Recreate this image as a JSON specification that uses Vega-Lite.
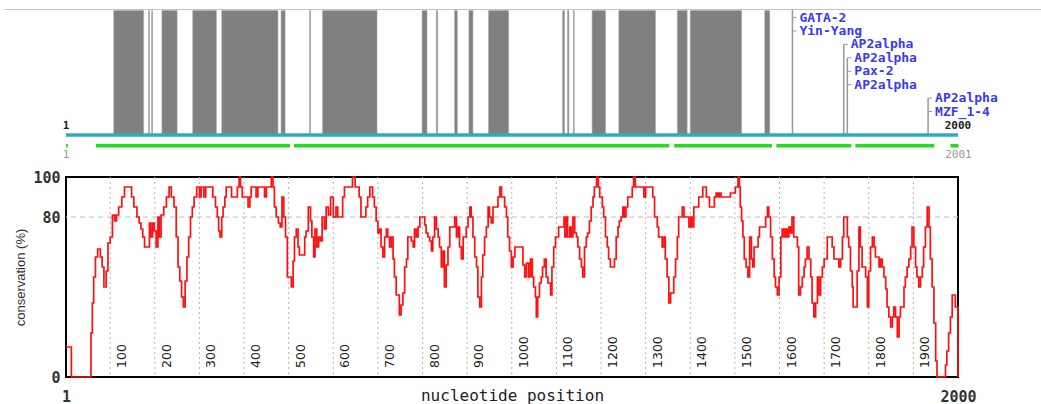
{
  "$schema": "https://vega.github.io/schema/vega-lite/v6.json",
  "autosize": {"type": "pad"},
  "padding": {"left": 3, "top": 8.5, "right": 0, "bottom": 0},
  "background": "white",
  "bounds": "flush",
  "spacing": 41.5,
  "config": {"font": "DejaVu Sans Mono"},
  "datasets": {
    "regions": [
      {"start": 108, "end": 175}, {"start": 186, "end": 188}, {"start": 193, "end": 195},
      {"start": 216, "end": 250}, {"start": 285, "end": 338}, {"start": 350, "end": 476},
      {"start": 483, "end": 492}, {"start": 547, "end": 549}, {"start": 576, "end": 698},
      {"start": 799, "end": 810}, {"start": 831, "end": 834}, {"start": 872, "end": 878},
      {"start": 904, "end": 913}, {"start": 948, "end": 993}, {"start": 1114, "end": 1118},
      {"start": 1125, "end": 1128}, {"start": 1138, "end": 1140}, {"start": 1180, "end": 1210},
      {"start": 1240, "end": 1322}, {"start": 1371, "end": 1393}, {"start": 1400, "end": 1515},
      {"start": 1567, "end": 1578}
    ],
    "alignments": [
      {"start": 1, "end": 5}, {"start": 68, "end": 503}, {"start": 512, "end": 1353},
      {"start": 1364, "end": 1583}, {"start": 1593, "end": 1761}, {"start": 1770, "end": 1947},
      {"start": 1983, "end": 2001}
    ],
    "sites": [
      {"pos": 1629, "top": -0.6}, {"pos": 1744, "top": 2}, {"pos": 1752, "top": 3}, {"pos": 1933, "top": 6}
    ],
    "factors": [
      {"pos": 1629, "row": 0, "name": "GATA-2"},
      {"pos": 1629, "row": 1, "name": "Yin-Yang"},
      {"pos": 1744, "row": 2, "name": "AP2alpha"},
      {"pos": 1752, "row": 3, "name": "AP2alpha"},
      {"pos": 1752, "row": 4, "name": "Pax-2"},
      {"pos": 1752, "row": 5, "name": "AP2alpha"},
      {"pos": 1933, "row": 6, "name": "AP2alpha"},
      {"pos": 1933, "row": 7, "name": "MZF_1-4"}
    ],
    "seqEnds": [{"pos": 1, "label": "1"}, {"pos": 2000, "label": "2000"}],
    "alnEnds": [{"pos": 1, "label": "1"}, {"pos": 2001, "label": "2001"}],
    "grid": [
      {"pos": 100}, {"pos": 200}, {"pos": 300}, {"pos": 400}, {"pos": 500}, {"pos": 600},
      {"pos": 700}, {"pos": 800}, {"pos": 900}, {"pos": 1000}, {"pos": 1100}, {"pos": 1200},
      {"pos": 1300}, {"pos": 1400}, {"pos": 1500}, {"pos": 1600}, {"pos": 1700}, {"pos": 1800},
      {"pos": 1900}
    ],
    "conservation": [
      {"pos": 1, "pct": 15}, {"pos": 13, "pct": 0}, {"pos": 57, "pct": 22}, {"pos": 60, "pct": 37},
      {"pos": 63, "pct": 50}, {"pos": 67, "pct": 60}, {"pos": 72, "pct": 64}, {"pos": 78, "pct": 60},
      {"pos": 82, "pct": 55}, {"pos": 86, "pct": 45}, {"pos": 91, "pct": 53}, {"pos": 95, "pct": 67},
      {"pos": 100, "pct": 70}, {"pos": 105, "pct": 81}, {"pos": 110, "pct": 78}, {"pos": 114, "pct": 81},
      {"pos": 119, "pct": 85}, {"pos": 126, "pct": 90}, {"pos": 132, "pct": 95}, {"pos": 148, "pct": 90},
      {"pos": 153, "pct": 85}, {"pos": 160, "pct": 80}, {"pos": 165, "pct": 77}, {"pos": 169, "pct": 74},
      {"pos": 173, "pct": 70}, {"pos": 177, "pct": 65}, {"pos": 188, "pct": 77}, {"pos": 191, "pct": 70},
      {"pos": 195, "pct": 77}, {"pos": 199, "pct": 73}, {"pos": 203, "pct": 65}, {"pos": 207, "pct": 80},
      {"pos": 210, "pct": 70}, {"pos": 214, "pct": 81}, {"pos": 220, "pct": 85}, {"pos": 226, "pct": 90},
      {"pos": 232, "pct": 95}, {"pos": 237, "pct": 90}, {"pos": 243, "pct": 85}, {"pos": 248, "pct": 70},
      {"pos": 252, "pct": 55}, {"pos": 256, "pct": 48}, {"pos": 260, "pct": 40}, {"pos": 264, "pct": 35},
      {"pos": 268, "pct": 48}, {"pos": 272, "pct": 60}, {"pos": 276, "pct": 70}, {"pos": 280, "pct": 80},
      {"pos": 284, "pct": 85}, {"pos": 288, "pct": 90}, {"pos": 294, "pct": 95}, {"pos": 300, "pct": 90},
      {"pos": 304, "pct": 95}, {"pos": 310, "pct": 90}, {"pos": 314, "pct": 95}, {"pos": 330, "pct": 90},
      {"pos": 336, "pct": 85}, {"pos": 340, "pct": 80}, {"pos": 343, "pct": 73}, {"pos": 346, "pct": 70},
      {"pos": 350, "pct": 80}, {"pos": 353, "pct": 85}, {"pos": 357, "pct": 90}, {"pos": 360, "pct": 95},
      {"pos": 372, "pct": 90}, {"pos": 385, "pct": 95}, {"pos": 389, "pct": 100}, {"pos": 392, "pct": 95},
      {"pos": 396, "pct": 90}, {"pos": 409, "pct": 85}, {"pos": 413, "pct": 90}, {"pos": 416, "pct": 95},
      {"pos": 427, "pct": 90}, {"pos": 431, "pct": 95}, {"pos": 446, "pct": 90}, {"pos": 450, "pct": 95},
      {"pos": 461, "pct": 100}, {"pos": 465, "pct": 95}, {"pos": 468, "pct": 85}, {"pos": 472, "pct": 80},
      {"pos": 477, "pct": 77}, {"pos": 481, "pct": 75}, {"pos": 485, "pct": 90}, {"pos": 489, "pct": 80},
      {"pos": 493, "pct": 70}, {"pos": 497, "pct": 50}, {"pos": 506, "pct": 45}, {"pos": 510, "pct": 58},
      {"pos": 513, "pct": 70}, {"pos": 517, "pct": 74}, {"pos": 521, "pct": 65}, {"pos": 524, "pct": 61},
      {"pos": 536, "pct": 70}, {"pos": 539, "pct": 73}, {"pos": 544, "pct": 85}, {"pos": 549, "pct": 78},
      {"pos": 552, "pct": 70}, {"pos": 556, "pct": 60}, {"pos": 559, "pct": 74}, {"pos": 563, "pct": 65},
      {"pos": 567, "pct": 70}, {"pos": 571, "pct": 68}, {"pos": 575, "pct": 80}, {"pos": 580, "pct": 74},
      {"pos": 584, "pct": 85}, {"pos": 589, "pct": 81}, {"pos": 594, "pct": 90}, {"pos": 600, "pct": 80},
      {"pos": 606, "pct": 85}, {"pos": 610, "pct": 80}, {"pos": 621, "pct": 90}, {"pos": 625, "pct": 95},
      {"pos": 643, "pct": 100}, {"pos": 649, "pct": 95}, {"pos": 658, "pct": 90}, {"pos": 662, "pct": 80},
      {"pos": 673, "pct": 85}, {"pos": 677, "pct": 90}, {"pos": 682, "pct": 95}, {"pos": 688, "pct": 90},
      {"pos": 692, "pct": 85}, {"pos": 696, "pct": 78}, {"pos": 700, "pct": 72}, {"pos": 704, "pct": 74},
      {"pos": 707, "pct": 65}, {"pos": 711, "pct": 60}, {"pos": 715, "pct": 70}, {"pos": 719, "pct": 74},
      {"pos": 722, "pct": 70}, {"pos": 726, "pct": 65}, {"pos": 730, "pct": 70}, {"pos": 734, "pct": 59},
      {"pos": 737, "pct": 50}, {"pos": 741, "pct": 41}, {"pos": 748, "pct": 31}, {"pos": 752, "pct": 36},
      {"pos": 756, "pct": 42}, {"pos": 760, "pct": 55}, {"pos": 764, "pct": 59}, {"pos": 767, "pct": 70},
      {"pos": 775, "pct": 68}, {"pos": 779, "pct": 65}, {"pos": 782, "pct": 74}, {"pos": 786, "pct": 70},
      {"pos": 790, "pct": 75}, {"pos": 794, "pct": 80}, {"pos": 805, "pct": 76}, {"pos": 808, "pct": 72},
      {"pos": 812, "pct": 70}, {"pos": 816, "pct": 68}, {"pos": 820, "pct": 63}, {"pos": 823, "pct": 70},
      {"pos": 827, "pct": 80}, {"pos": 831, "pct": 74}, {"pos": 835, "pct": 70}, {"pos": 838, "pct": 65},
      {"pos": 842, "pct": 55}, {"pos": 846, "pct": 63}, {"pos": 849, "pct": 45}, {"pos": 853, "pct": 56},
      {"pos": 857, "pct": 65}, {"pos": 861, "pct": 75}, {"pos": 872, "pct": 80}, {"pos": 876, "pct": 70},
      {"pos": 880, "pct": 75}, {"pos": 883, "pct": 65}, {"pos": 887, "pct": 59}, {"pos": 891, "pct": 70},
      {"pos": 898, "pct": 75}, {"pos": 902, "pct": 80}, {"pos": 906, "pct": 85}, {"pos": 909, "pct": 80},
      {"pos": 913, "pct": 70}, {"pos": 917, "pct": 60}, {"pos": 921, "pct": 55}, {"pos": 924, "pct": 40},
      {"pos": 928, "pct": 35}, {"pos": 932, "pct": 50}, {"pos": 935, "pct": 61}, {"pos": 939, "pct": 70},
      {"pos": 943, "pct": 75}, {"pos": 947, "pct": 85}, {"pos": 950, "pct": 80}, {"pos": 954, "pct": 77},
      {"pos": 958, "pct": 85}, {"pos": 969, "pct": 90}, {"pos": 973, "pct": 95}, {"pos": 977, "pct": 90},
      {"pos": 984, "pct": 85}, {"pos": 988, "pct": 80}, {"pos": 991, "pct": 70}, {"pos": 995, "pct": 63},
      {"pos": 999, "pct": 55}, {"pos": 1003, "pct": 60}, {"pos": 1007, "pct": 65}, {"pos": 1025, "pct": 56},
      {"pos": 1029, "pct": 50}, {"pos": 1033, "pct": 57}, {"pos": 1038, "pct": 50}, {"pos": 1042, "pct": 59},
      {"pos": 1046, "pct": 50}, {"pos": 1049, "pct": 45}, {"pos": 1053, "pct": 40}, {"pos": 1055, "pct": 30},
      {"pos": 1058, "pct": 40}, {"pos": 1062, "pct": 47}, {"pos": 1066, "pct": 50}, {"pos": 1069, "pct": 55},
      {"pos": 1073, "pct": 59}, {"pos": 1077, "pct": 50}, {"pos": 1081, "pct": 47}, {"pos": 1087, "pct": 41},
      {"pos": 1090, "pct": 55}, {"pos": 1094, "pct": 65}, {"pos": 1098, "pct": 70}, {"pos": 1105, "pct": 75},
      {"pos": 1117, "pct": 80}, {"pos": 1119, "pct": 70}, {"pos": 1123, "pct": 80}, {"pos": 1125, "pct": 70},
      {"pos": 1130, "pct": 75}, {"pos": 1133, "pct": 70}, {"pos": 1137, "pct": 80}, {"pos": 1141, "pct": 72},
      {"pos": 1145, "pct": 70}, {"pos": 1148, "pct": 65}, {"pos": 1152, "pct": 59}, {"pos": 1156, "pct": 55},
      {"pos": 1159, "pct": 50}, {"pos": 1163, "pct": 65}, {"pos": 1167, "pct": 70}, {"pos": 1170, "pct": 72},
      {"pos": 1174, "pct": 78}, {"pos": 1178, "pct": 85}, {"pos": 1182, "pct": 90}, {"pos": 1185, "pct": 95},
      {"pos": 1190, "pct": 100}, {"pos": 1194, "pct": 95}, {"pos": 1197, "pct": 90}, {"pos": 1203, "pct": 85},
      {"pos": 1206, "pct": 80}, {"pos": 1210, "pct": 70}, {"pos": 1214, "pct": 65}, {"pos": 1217, "pct": 59},
      {"pos": 1221, "pct": 55}, {"pos": 1230, "pct": 59}, {"pos": 1234, "pct": 70}, {"pos": 1238, "pct": 75},
      {"pos": 1241, "pct": 78}, {"pos": 1245, "pct": 80}, {"pos": 1249, "pct": 85}, {"pos": 1252, "pct": 80},
      {"pos": 1256, "pct": 85}, {"pos": 1260, "pct": 90}, {"pos": 1270, "pct": 95}, {"pos": 1273, "pct": 100},
      {"pos": 1277, "pct": 95}, {"pos": 1296, "pct": 90}, {"pos": 1300, "pct": 95}, {"pos": 1316, "pct": 90},
      {"pos": 1320, "pct": 80}, {"pos": 1326, "pct": 75}, {"pos": 1329, "pct": 70}, {"pos": 1337, "pct": 65},
      {"pos": 1341, "pct": 70}, {"pos": 1344, "pct": 59}, {"pos": 1348, "pct": 50}, {"pos": 1352, "pct": 37},
      {"pos": 1356, "pct": 42}, {"pos": 1363, "pct": 50}, {"pos": 1367, "pct": 59}, {"pos": 1371, "pct": 70},
      {"pos": 1374, "pct": 80}, {"pos": 1382, "pct": 85}, {"pos": 1386, "pct": 80}, {"pos": 1397, "pct": 75},
      {"pos": 1401, "pct": 80}, {"pos": 1404, "pct": 75}, {"pos": 1408, "pct": 85}, {"pos": 1419, "pct": 90},
      {"pos": 1428, "pct": 95}, {"pos": 1436, "pct": 90}, {"pos": 1443, "pct": 85}, {"pos": 1454, "pct": 90},
      {"pos": 1458, "pct": 92}, {"pos": 1462, "pct": 90}, {"pos": 1465, "pct": 92}, {"pos": 1469, "pct": 90},
      {"pos": 1490, "pct": 92}, {"pos": 1501, "pct": 95}, {"pos": 1507, "pct": 100}, {"pos": 1510, "pct": 95},
      {"pos": 1512, "pct": 85}, {"pos": 1515, "pct": 78}, {"pos": 1518, "pct": 70}, {"pos": 1521, "pct": 59},
      {"pos": 1525, "pct": 55}, {"pos": 1529, "pct": 50}, {"pos": 1533, "pct": 70}, {"pos": 1537, "pct": 59},
      {"pos": 1540, "pct": 55}, {"pos": 1543, "pct": 65}, {"pos": 1552, "pct": 70}, {"pos": 1555, "pct": 75},
      {"pos": 1569, "pct": 80}, {"pos": 1573, "pct": 85}, {"pos": 1576, "pct": 80}, {"pos": 1580, "pct": 70},
      {"pos": 1584, "pct": 59}, {"pos": 1588, "pct": 50}, {"pos": 1591, "pct": 45}, {"pos": 1595, "pct": 41},
      {"pos": 1599, "pct": 50}, {"pos": 1603, "pct": 70}, {"pos": 1606, "pct": 74}, {"pos": 1610, "pct": 70},
      {"pos": 1614, "pct": 74}, {"pos": 1617, "pct": 70}, {"pos": 1621, "pct": 75}, {"pos": 1625, "pct": 72},
      {"pos": 1628, "pct": 80}, {"pos": 1632, "pct": 70}, {"pos": 1640, "pct": 65}, {"pos": 1643, "pct": 41},
      {"pos": 1647, "pct": 45}, {"pos": 1651, "pct": 50}, {"pos": 1655, "pct": 55}, {"pos": 1658, "pct": 59},
      {"pos": 1662, "pct": 65}, {"pos": 1666, "pct": 59}, {"pos": 1670, "pct": 50}, {"pos": 1673, "pct": 37},
      {"pos": 1677, "pct": 30}, {"pos": 1681, "pct": 37}, {"pos": 1685, "pct": 50}, {"pos": 1688, "pct": 41},
      {"pos": 1692, "pct": 50}, {"pos": 1696, "pct": 55}, {"pos": 1700, "pct": 59}, {"pos": 1707, "pct": 70},
      {"pos": 1718, "pct": 65}, {"pos": 1722, "pct": 59}, {"pos": 1733, "pct": 55}, {"pos": 1737, "pct": 59},
      {"pos": 1741, "pct": 70}, {"pos": 1744, "pct": 80}, {"pos": 1752, "pct": 70}, {"pos": 1755, "pct": 65},
      {"pos": 1759, "pct": 53}, {"pos": 1763, "pct": 45}, {"pos": 1765, "pct": 35}, {"pos": 1774, "pct": 53},
      {"pos": 1778, "pct": 75}, {"pos": 1781, "pct": 65}, {"pos": 1785, "pct": 55}, {"pos": 1793, "pct": 50},
      {"pos": 1797, "pct": 35}, {"pos": 1800, "pct": 53}, {"pos": 1804, "pct": 65}, {"pos": 1808, "pct": 70},
      {"pos": 1812, "pct": 65}, {"pos": 1815, "pct": 60}, {"pos": 1823, "pct": 55}, {"pos": 1826, "pct": 59},
      {"pos": 1830, "pct": 55}, {"pos": 1834, "pct": 50}, {"pos": 1838, "pct": 44}, {"pos": 1841, "pct": 35},
      {"pos": 1845, "pct": 30}, {"pos": 1849, "pct": 25}, {"pos": 1853, "pct": 30}, {"pos": 1856, "pct": 35},
      {"pos": 1860, "pct": 30}, {"pos": 1864, "pct": 20}, {"pos": 1868, "pct": 30}, {"pos": 1871, "pct": 35},
      {"pos": 1879, "pct": 45}, {"pos": 1882, "pct": 50}, {"pos": 1886, "pct": 55}, {"pos": 1890, "pct": 59},
      {"pos": 1894, "pct": 65}, {"pos": 1897, "pct": 75}, {"pos": 1901, "pct": 65}, {"pos": 1905, "pct": 55},
      {"pos": 1908, "pct": 50}, {"pos": 1912, "pct": 45}, {"pos": 1916, "pct": 50}, {"pos": 1920, "pct": 55},
      {"pos": 1923, "pct": 65}, {"pos": 1927, "pct": 75}, {"pos": 1931, "pct": 85}, {"pos": 1935, "pct": 75},
      {"pos": 1938, "pct": 59}, {"pos": 1942, "pct": 45}, {"pos": 1946, "pct": 27}, {"pos": 1950, "pct": 8},
      {"pos": 1953, "pct": 0}, {"pos": 1972, "pct": 6}, {"pos": 1975, "pct": 13}, {"pos": 1979, "pct": 22},
      {"pos": 1983, "pct": 30}, {"pos": 1987, "pct": 41}, {"pos": 1994, "pct": 35}, {"pos": 2000, "pct": 0}
    ]
  },
  "vconcat": [
    {
      "width": 892,
      "height": 125.5,
      "view": {"stroke": null},
      "layer": [
        {
          "data": {"values": [{}]},
          "mark": {"type": "rule", "color": "#c4c4c4", "strokeWidth": 1},
          "encoding": {
            "x": {"datum": -137, "type": "quantitative", "scale": {"domain": [1, 2000], "nice": false, "zero": false}, "axis": null},
            "x2": {"datum": 2190},
            "y": {"datum": -0.6, "type": "quantitative", "scale": {"domain": [8.75, -0.6], "nice": false, "zero": false}, "axis": null}
          }
        },
        {
          "data": {"name": "regions"},
          "mark": {"type": "rect", "color": "#808080", "stroke": "#a6a6a6", "strokeWidth": 0.6},
          "encoding": {
            "x": {"field": "start", "type": "quantitative"},
            "x2": {"field": "end"},
            "y": {"datum": -0.52, "type": "quantitative"},
            "y2": {"datum": 8.75}
          }
        },
        {
          "data": {"name": "sites"},
          "mark": {"type": "rule", "color": "#999999", "strokeWidth": 1.5},
          "encoding": {
            "x": {"field": "pos", "type": "quantitative"},
            "y": {"field": "top", "type": "quantitative"},
            "y2": {"datum": 8.75}
          }
        },
        {
          "data": {"name": "factors"},
          "mark": {"type": "rule", "color": "#999999", "strokeWidth": 1, "x2Offset": 4},
          "encoding": {
            "x": {"field": "pos", "type": "quantitative"},
            "x2": {"field": "pos"},
            "y": {"field": "row", "type": "quantitative"}
          }
        },
        {
          "data": {"name": "factors"},
          "mark": {"type": "text", "align": "left", "baseline": "middle", "dx": 7, "font": "DejaVu Sans Mono", "fontSize": 13, "fontWeight": "bold", "color": "#3a3af0"},
          "encoding": {
            "x": {"field": "pos", "type": "quantitative"},
            "y": {"field": "row", "type": "quantitative"},
            "text": {"field": "name"}
          }
        },
        {
          "data": {"values": [{}]},
          "mark": {"type": "rule", "color": "#2fa9c9", "strokeWidth": 3.5},
          "encoding": {
            "x": {"datum": 1, "type": "quantitative"},
            "x2": {"datum": 2000},
            "y": {"datum": 8.75, "type": "quantitative"}
          }
        },
        {
          "data": {"name": "seqEnds"},
          "mark": {"type": "text", "align": "center", "baseline": "middle", "font": "DejaVu Sans Mono", "fontSize": 11, "fontWeight": "bold", "color": "#222222"},
          "encoding": {
            "x": {"field": "pos", "type": "quantitative"},
            "y": {"datum": 8.1, "type": "quantitative"},
            "text": {"field": "label"}
          }
        },
        {
          "data": {"name": "alignments"},
          "mark": {"type": "rule", "color": "#22dd22", "strokeWidth": 3.5},
          "encoding": {
            "x": {"field": "start", "type": "quantitative"},
            "x2": {"field": "end"},
            "y": {"datum": 9.55, "type": "quantitative"}
          }
        },
        {
          "data": {"name": "alnEnds"},
          "mark": {"type": "text", "align": "center", "baseline": "middle", "font": "DejaVu Sans Mono", "fontSize": 11, "color": "#999999"},
          "encoding": {
            "x": {"field": "pos", "type": "quantitative"},
            "y": {"datum": 10.25, "type": "quantitative"},
            "text": {"field": "label"}
          }
        }
      ]
    },
    {
      "width": 892,
      "height": 200,
      "view": {"stroke": "#000000", "strokeWidth": 2},
      "layer": [
        {
          "data": {"name": "grid"},
          "mark": {"type": "rule", "color": "#b4b4b4", "strokeWidth": 1, "strokeDash": [2, 3]},
          "encoding": {
            "x": {"field": "pos", "type": "quantitative"}
          }
        },
        {
          "data": {"values": [{}]},
          "mark": {"type": "rule", "color": "#c0c0c0", "strokeWidth": 1, "strokeDash": [5, 4]},
          "encoding": {
            "y": {"datum": 80, "type": "quantitative"}
          }
        },
        {
          "data": {"name": "grid"},
          "mark": {"type": "text", "angle": 270, "align": "left", "baseline": "middle", "dy": 12, "font": "DejaVu Sans", "fontSize": 12.5, "color": "#222222"},
          "encoding": {
            "x": {"field": "pos", "type": "quantitative"},
            "y": {"datum": 4.5, "type": "quantitative"},
            "text": {"field": "pos"}
          }
        },
        {
          "data": {"name": "conservation"},
          "mark": {"type": "line", "interpolate": "step-after", "color": "#ff1010", "strokeWidth": 1.7},
          "encoding": {
            "x": {
              "field": "pos", "type": "quantitative",
              "scale": {"domain": [1, 2000], "nice": false, "zero": false},
              "axis": {
                "values": [1, 2000], "format": "d", "title": "nucleotide position", "ticks": false, "domain": false, "grid": false,
                "labelFlush": false, "labelPadding": 19, "labelBaseline": "middle",
                "labelFont": "DejaVu Sans Mono", "labelFontSize": 15, "labelFontWeight": "bold", "labelColor": "#333333",
                "titleFont": "DejaVu Sans Mono", "titleFontSize": 16, "titleFontWeight": "normal", "titleColor": "#222222",
                "titleY": 18.5, "titleBaseline": "middle"
              }
            },
            "y": {
              "field": "pct", "type": "quantitative",
              "scale": {"domain": [0, 100], "nice": false, "zero": false},
              "axis": {
                "values": [0, 80, 100], "title": "conservation (%)", "ticks": false, "domain": false, "grid": false,
                "labelPadding": 6, "labelFont": "DejaVu Sans Mono", "labelFontSize": 15, "labelFontWeight": "bold", "labelColor": "#333333",
                "titleFont": "Liberation Sans", "titleFontSize": 13, "titleFontWeight": "normal", "titleColor": "#333333",
                "titleX": -46, "titleY": 100, "titleAngle": 270, "titleBaseline": "middle", "titleAlign": "center"
              }
            }
          }
        }
      ]
    }
  ]
}
